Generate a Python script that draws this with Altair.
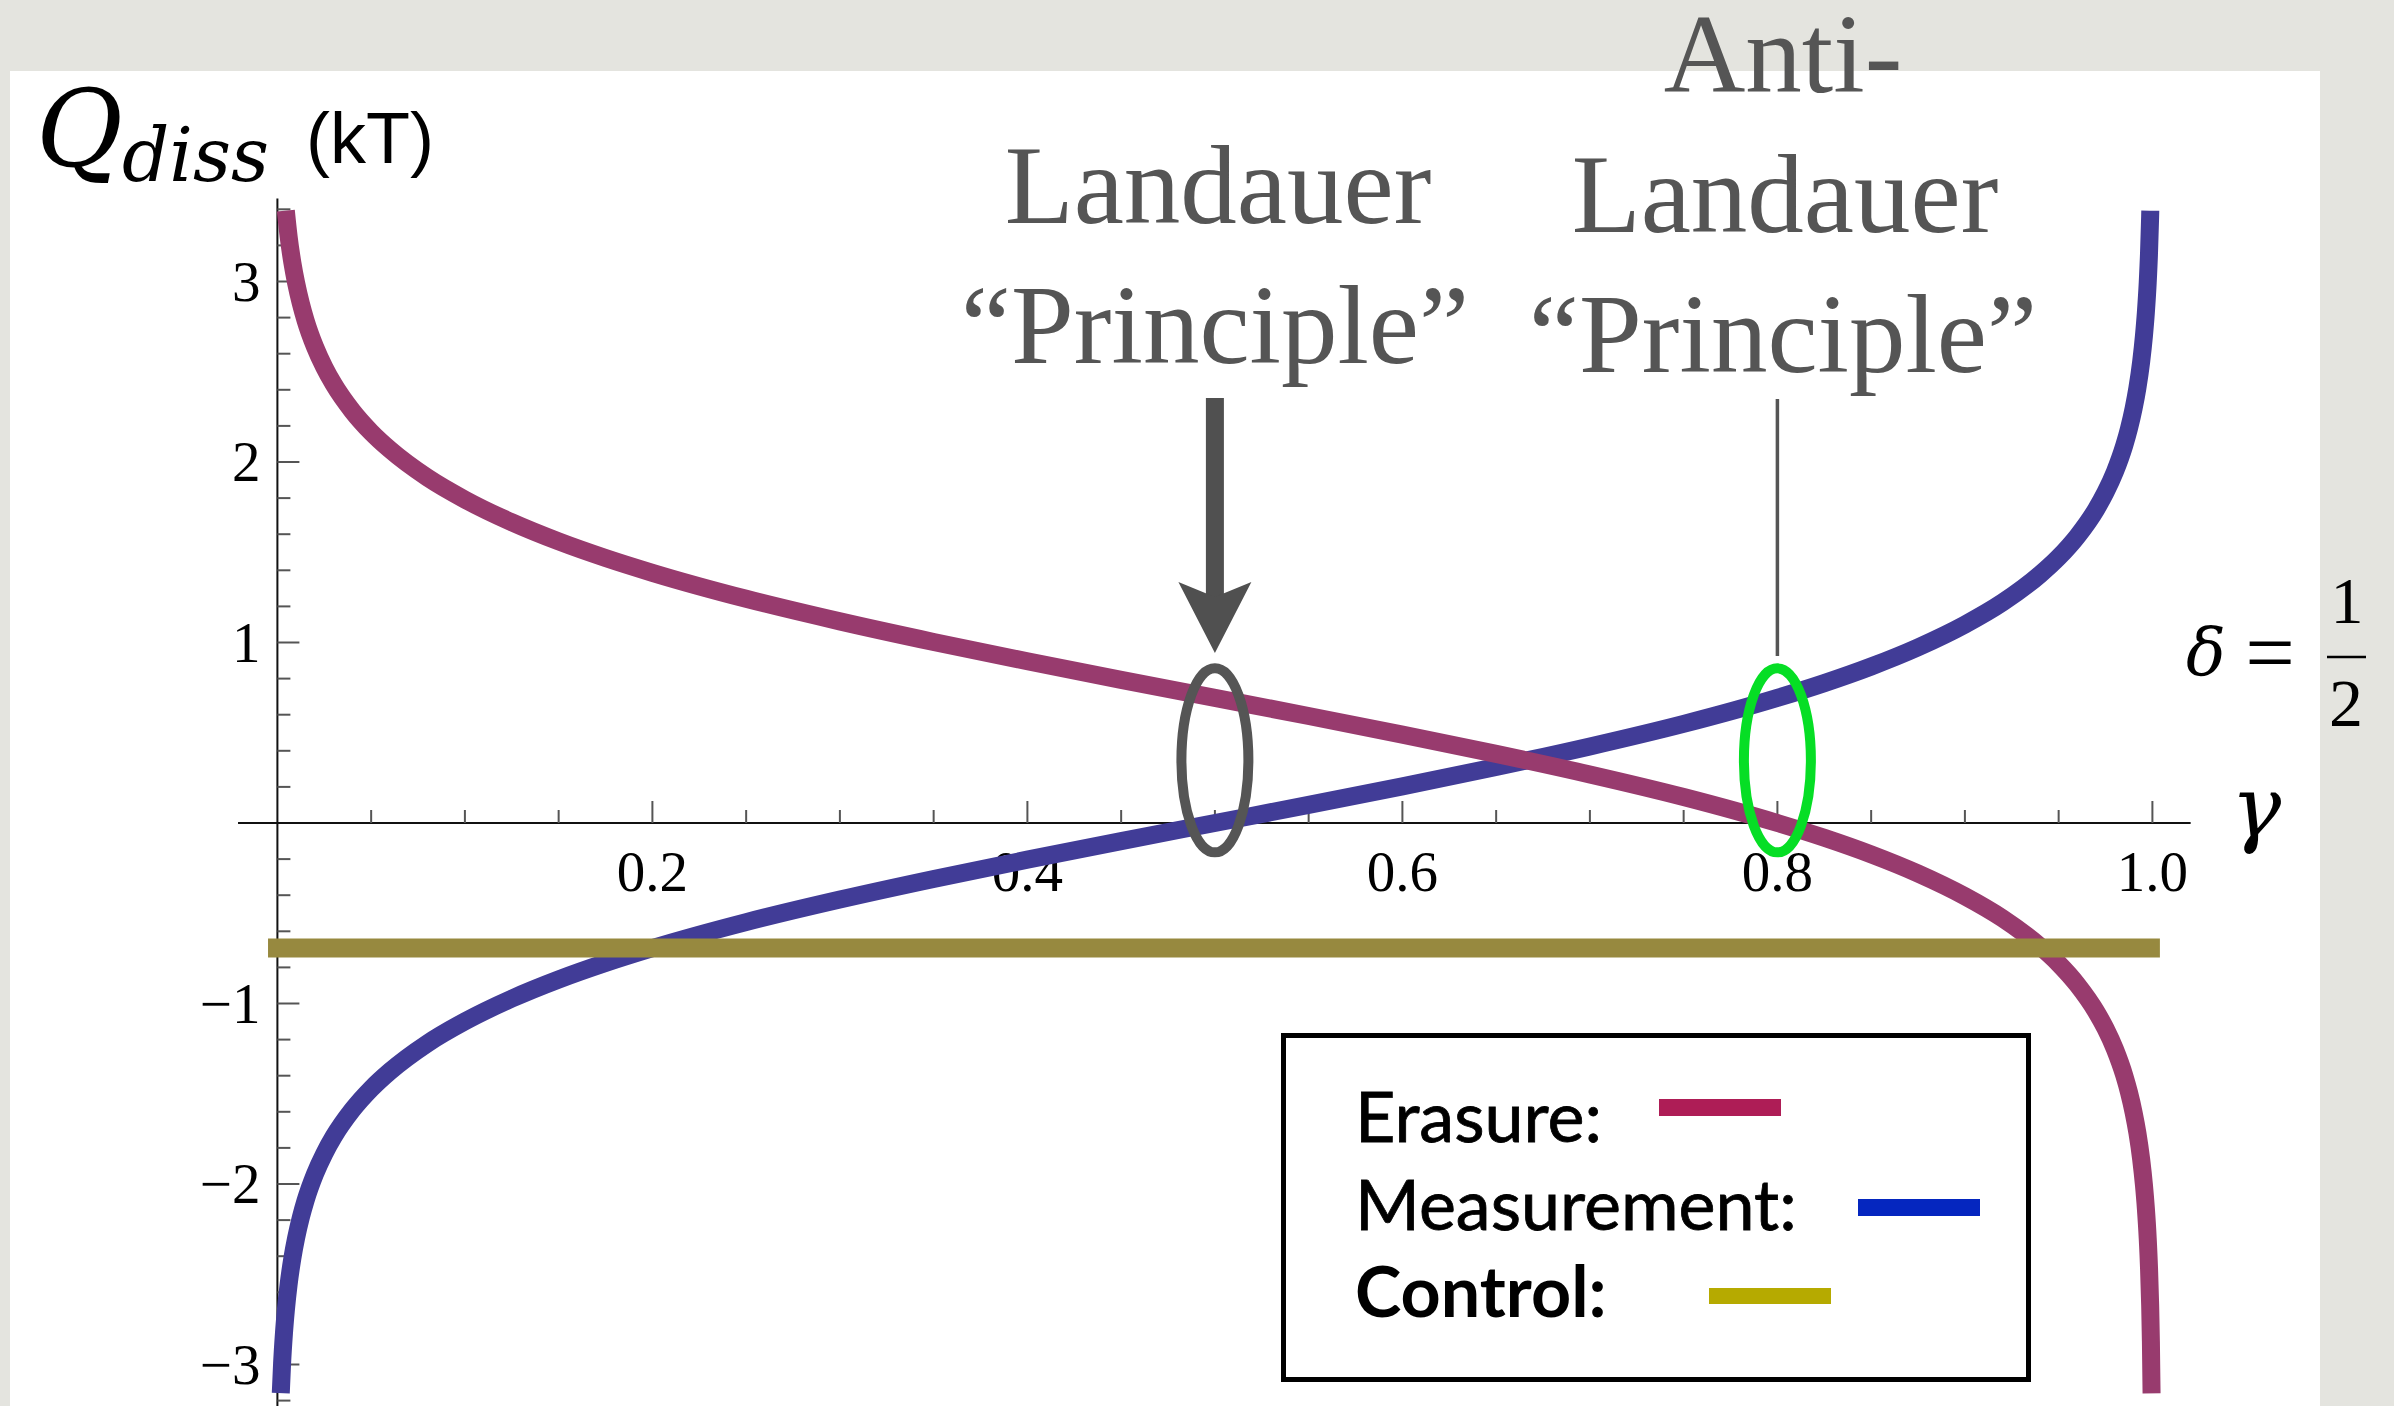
import altair as alt
import pandas as pd

# Dissipated heat Q_diss (in kT) as a function of gamma, for delta = 1/2
gamma_measurement = [0.0018, 0.0025, 0.0035, 0.0045, 0.006, 0.008, 0.01, 0.0125, 0.015, 0.02,
                     0.025, 0.03, 0.04, 0.05, 0.06, 0.08, 0.1, 0.125, 0.15, 0.175, 0.2, 0.25,
                     0.3, 0.35, 0.4, 0.45, 0.5, 0.55, 0.6, 0.65, 0.7, 0.75, 0.8, 0.825, 0.85,
                     0.875, 0.9, 0.92, 0.94, 0.95, 0.96, 0.97, 0.975, 0.98, 0.985, 0.9875,
                     0.99, 0.992, 0.994, 0.9955, 0.9965, 0.9975, 0.9982, 0.9988, 0.99887]
q_measurement = [-3.159, -2.994, -2.826, -2.700, -2.555, -2.410, -2.298, -2.185, -2.092, -1.946,
                 -1.832, -1.738, -1.589, -1.472, -1.376, -1.221, -1.099, -0.973, -0.867, -0.775,
                 -0.693, -0.549, -0.424, -0.310, -0.203, -0.100, 0.000, 0.100, 0.203, 0.310,
                 0.424, 0.549, 0.693, 0.775, 0.867, 0.973, 1.099, 1.221, 1.376, 1.472, 1.589,
                 1.738, 1.832, 1.946, 2.092, 2.185, 2.298, 2.410, 2.555, 2.700, 2.826, 2.994,
                 3.159, 3.362, 3.392]

gamma_erasure = [0.0045, 0.006, 0.008, 0.01, 0.0125, 0.015, 0.02, 0.025, 0.03, 0.04, 0.05,
                 0.06, 0.08, 0.1, 0.125, 0.15, 0.175, 0.2, 0.25, 0.3, 0.35, 0.4, 0.45, 0.5,
                 0.55, 0.6, 0.65, 0.7, 0.75, 0.8, 0.825, 0.85, 0.875, 0.9, 0.92, 0.94, 0.95,
                 0.96, 0.97, 0.975, 0.98, 0.985, 0.9875, 0.99, 0.992, 0.994, 0.9955, 0.9965,
                 0.9975, 0.9982, 0.9988, 0.9992, 0.99955]
q_erasure = [3.393, 3.248, 3.103, 2.991, 2.878, 2.785, 2.639, 2.525, 2.431, 2.282, 2.165,
             2.069, 1.914, 1.792, 1.666, 1.560, 1.468, 1.386, 1.242, 1.117, 1.003, 0.896,
             0.793, 0.693, 0.593, 0.490, 0.383, 0.269, 0.144, 0.000, -0.082, -0.174, -0.280,
             -0.406, -0.528, -0.683, -0.779, -0.896, -1.045, -1.139, -1.253, -1.399, -1.492,
             -1.605, -1.717, -1.862, -2.007, -2.133, -2.301, -2.466, -2.669, -2.872, -3.160]

gamma_control = [-0.005, 1.004]
q_control = [-0.693, -0.693]

x_major = [0.2, 0.4, 0.6, 0.8, 1.0]
x_major_labels = ["0.2", "0.4", "0.6", "0.8", "1.0"]
x_minor = [0.05, 0.1, 0.15, 0.25, 0.3, 0.35, 0.45, 0.5, 0.55, 0.65, 0.7, 0.75, 0.85, 0.9, 0.95]
y_major = [-3, -2, -1, 1, 2, 3]
y_major_labels = ["\u22123", "\u22122", "\u22121", "1", "2", "3"]
y_minor = [-3.2, -2.8, -2.6, -2.4, -2.2, -1.8, -1.6, -1.4, -1.2, -0.8, -0.6, -0.4, -0.2,
           0.2, 0.4, 0.6, 0.8, 1.2, 1.4, 1.6, 1.8, 2.2, 2.4, 2.6, 2.8, 3.2, 3.4]

# marked points: Landauer at gamma = 1/2, anti-Landauer at gamma = 0.8
landauer_gamma = 0.5
anti_gamma = 0.8
marker_q = 0.347

legend_rows = ["Erasure:", "Measurement:", "Control:"]
legend_colors = ["#ae1d56", "#0526bf", "#b6aa00"]

# ---- canvas geometry (pixels) ----
W, H = 2394, 1406
PX0, PXU = 277.4, 1875.0   # pixel of gamma = 0, pixels per unit gamma
PY0, PYU = 823.0, 180.5    # pixel of Q = 0, pixels per kT

xs = alt.Scale(domain=[-PX0 / PXU, (W - PX0) / PXU], nice=False, zero=False)
ys = alt.Scale(domain=[-(H - PY0) / PYU, PY0 / PYU], nice=False, zero=False)


def X(field, **kw):
    return alt.X(field, type="quantitative", scale=xs, axis=None, **kw)


def Y(field, **kw):
    return alt.Y(field, type="quantitative", scale=ys, axis=None, **kw)


one = pd.DataFrame({"k": [0]})
layers = []

# white slide panel
layers.append(alt.Chart(one).mark_rect(fill="white").encode(
    x=alt.value(10), x2=alt.value(2320), y=alt.value(71), y2=alt.value(H)))

# axis lines
axes_df = pd.DataFrame({"x": [-0.021, 0.0], "x2": [1.0204, 0.0],
                        "y": [0.0, 3.46], "y2": [0.0, -3.3]})
layers.append(alt.Chart(axes_df).mark_rule(color="#111", strokeWidth=2).encode(
    x=X("x"), x2="x2", y=Y("y"), y2="y2"))

# x ticks (pointing up from the axis)
MAJ, MIN = 22.0, 13.0
xt = pd.DataFrame({"x": x_major + x_minor,
                   "len": [MAJ / PYU] * len(x_major) + [MIN / PYU] * len(x_minor)})
xt["y0"] = 0.0
layers.append(alt.Chart(xt).mark_rule(color="#555", strokeWidth=2).encode(
    x=X("x"), y=Y("y0"), y2="len"))

# y ticks (pointing right from the axis)
yt = pd.DataFrame({"y": y_major + y_minor,
                   "len": [MAJ / PXU] * len(y_major) + [MIN / PXU] * len(y_minor)})
yt["x0"] = 0.0
layers.append(alt.Chart(yt).mark_rule(color="#555", strokeWidth=2).encode(
    y=Y("y"), x=X("x0"), x2="len"))

# tick labels
xl = pd.DataFrame({"x": x_major, "lab": x_major_labels, "y": 0.0})
layers.append(alt.Chart(xl).mark_text(font="Liberation Serif", fontSize=57, color="black",
                                      baseline="alphabetic", align="center", dy=68).encode(
    x=X("x"), y=Y("y"), text="lab:N"))
yl = pd.DataFrame({"y": y_major, "lab": y_major_labels, "x": 0.0})
layers.append(alt.Chart(yl).mark_text(font="Liberation Serif", fontSize=57, color="black",
                                      baseline="alphabetic", align="right", dx=-17, dy=19).encode(
    x=X("x"), y=Y("y"), text="lab:N"))

# curves
meas = pd.DataFrame({"g": gamma_measurement, "q": q_measurement})
eras = pd.DataFrame({"g": gamma_erasure, "q": q_erasure})
ctrl = pd.DataFrame({"g": gamma_control, "q": q_control})
layers.append(alt.Chart(meas).mark_line(color="#413c97", strokeWidth=18, strokeCap="butt",
                                        interpolate="monotone").encode(
    x=X("g"), y=Y("q"), order="g:Q"))
layers.append(alt.Chart(eras).mark_line(color="#983b6e", strokeWidth=18, strokeCap="butt",
                                        interpolate="monotone").encode(
    x=X("g"), y=Y("q"), order="g:Q"))
layers.append(alt.Chart(ctrl).mark_line(color="#97893f", strokeWidth=19, strokeCap="butt").encode(
    x=X("g"), y=Y("q")))

# ellipses around the two marked points
ELLIPSE = "M -0.364 0 A 0.364 1 0 1 0 0.364 0 A 0.364 1 0 1 0 -0.364 0 Z"
ell = pd.DataFrame({"g": [landauer_gamma, anti_gamma], "q": [marker_q, marker_q],
                    "c": ["#555555", "#06de25"]})
layers.append(alt.Chart(ell).mark_point(shape=ELLIPSE, size=184 * 184, filled=False,
                                        strokeWidth=10, opacity=1).encode(
    x=X("g"), y=Y("q"), stroke=alt.Stroke("c:N", scale=None)))

# thick arrow to the Landauer point
shaft = pd.DataFrame({"g": [landauer_gamma], "top": [2.355], "bot": [1.2]})
layers.append(alt.Chart(shaft).mark_rule(color="#505050", strokeWidth=18).encode(
    x=X("g"), y=Y("top"), y2="bot"))
HEAD = "M 0 0.97 L -1 -0.97 L 0 -0.56 L 1 -0.97 Z"
head = pd.DataFrame({"g": [landauer_gamma], "q": [1.1385]})
layers.append(alt.Chart(head).mark_point(shape=HEAD, size=73 * 73, filled=True, opacity=1,
                                         color="#505050", strokeWidth=0).encode(
    x=X("g"), y=Y("q")))

# thin pointer to the anti-Landauer point
thin = pd.DataFrame({"g": [anti_gamma], "top": [2.349], "bot": [0.925]})
layers.append(alt.Chart(thin).mark_rule(color="#555", strokeWidth=3.5).encode(
    x=X("g"), y=Y("top"), y2="bot"))


def txt(text, x, y, **kw):
    return alt.Chart(one).mark_text(text=text, baseline="alphabetic", **kw).encode(
        x=alt.value(x), y=alt.value(y))


ann = dict(font="Liberation Serif", fontSize=113, color="#555555", align="center")
layers.append(txt("Landauer", 1218, 223, **ann))
layers.append(txt("\u201cPrinciple\u201d", 1215, 363, **ann))
layers.append(txt("Anti-", 1783, 92, **ann))
layers.append(txt("Landauer", 1785, 232, **ann))
layers.append(txt("\u201cPrinciple\u201d", 1783, 372, **ann))

# legend box
layers.append(alt.Chart(one).mark_rect(fill="white", stroke="black", strokeWidth=5).encode(
    x=alt.value(1283.5), x2=alt.value(2028.5), y=alt.value(1035.5), y2=alt.value(1379.5)))
leg_base = [1142, 1230, 1317]
leg_weight = ["normal", "normal", "bold"]
sw_x = [(1659, 1781), (1858, 1980), (1709, 1831)]
sw_y = [(1099, 1116), (1199, 1216), (1288, 1304)]
for i, row in enumerate(legend_rows):
    layers.append(txt(row, 1355, leg_base[i], font="Lato", fontSize=70, color="black",
                      align="left", fontWeight=leg_weight[i], stroke="black",
                      strokeWidth=0.8 if i < 2 else 0))
    layers.append(alt.Chart(one).mark_rect(fill=legend_colors[i]).encode(
        x=alt.value(sw_x[i][0]), x2=alt.value(sw_x[i][1]),
        y=alt.value(sw_y[i][0]), y2=alt.value(sw_y[i][1])))

# y-axis title  Q_diss (kT)
layers.append(txt("Q", 36, 166, font="DejaVu Serif", fontStyle="italic", fontSize=106,
                  color="black", align="left"))
layers.append(txt("diss", 122, 181, font="DejaVu Serif", fontStyle="italic", fontSize=74,
                  color="black", align="left"))
layers.append(txt("(kT)", 306, 163, font="Liberation Sans", fontSize=72, color="black",
                  align="left"))

# x-axis title and parameter
layers.append(txt("\u03b3", 2231, 836, font="DejaVu Serif", fontStyle="italic", fontSize=84,
                  color="black", align="left"))
layers.append(txt("\u03b4", 2186, 675, font="DejaVu Serif", fontStyle="italic", fontSize=66,
                  color="black", align="left"))
layers.append(txt("=", 2270, 682, font="Liberation Serif", fontSize=88, color="black",
                  align="center"))
layers.append(txt("1", 2347, 623, font="Liberation Serif", fontSize=66, color="black",
                  align="center"))
layers.append(txt("2", 2346, 726, font="Liberation Serif", fontSize=68, color="black",
                  align="center"))
layers.append(alt.Chart(one).mark_rule(color="black", strokeWidth=2.5).encode(
    x=alt.value(2327), x2=alt.value(2366), y=alt.value(657)))

chart = alt.layer(*layers).properties(
    width=W, height=H, padding=0,
    autosize=alt.AutoSizeParams(type="none"),
    background="#e4e4df",
).configure_view(stroke=None)

chart.save("out.html", embed_options={"renderer": "svg", "actions": False})
